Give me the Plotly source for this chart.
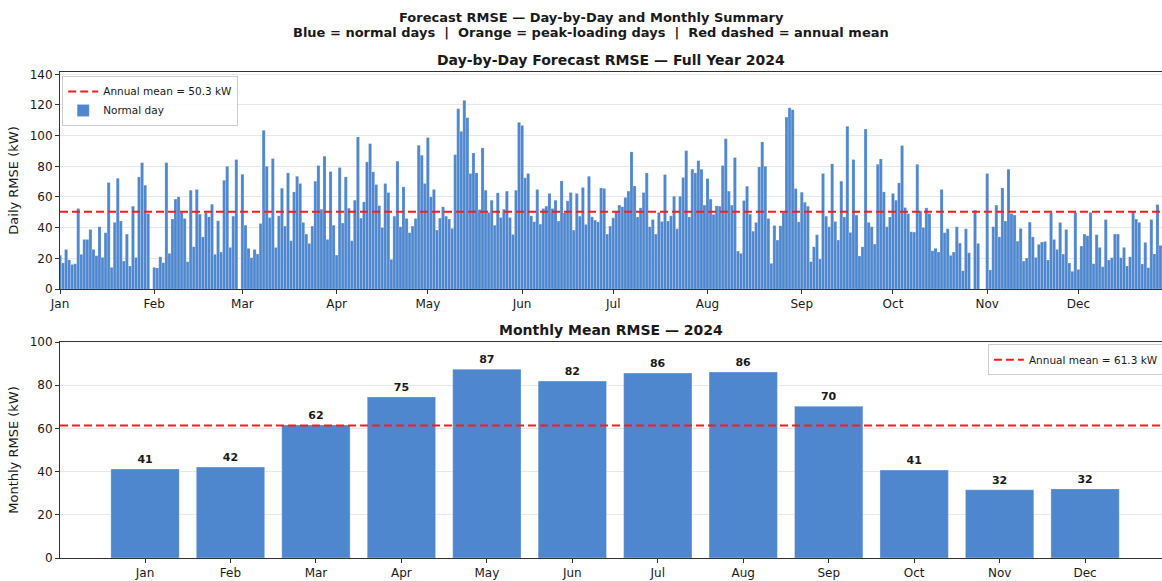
import numpy as np
import pandas as pd
import plotly.graph_objects as go
from plotly.subplots import make_subplots

# ---- daily forecast RMSE (kW), 2024; None = no value for that day ----
jan_rmse = [22.0, 17.0, 25.8, 19.0, 16.0, 16.5, 52.5, 22.6, 32.3, 32.3, 38.8, 25.8, 21.7, 40.6, 20.6,
            36.7, 69.4, 14.1, 43.4, 72.2, 44.3, 18.2, 35.8, 15.0, 54.0, 20.6, 73.1, 82.4, 67.7, 49.2, None]
feb_rmse = [14.1, 13.7, 21.0, 17.1, 82.4, 23.2, 45.6, 58.6, 60.1, 49.9, 46.0, 17.8, 64.4, 27.5, 64.9,
            48.8, 34.0, 49.7, 47.0, 55.3, 22.6, 44.5, 24.1, 70.9, 80.0, 27.1, 47.5, 84.4, None]
mar_rmse = [74.8, 41.6, 26.5, 20.4, 25.8, 22.8, 42.7, 103.5, 80.0, 46.6, 85.0, 27.1, 47.7, 65.7, 41.0,
            75.7, 31.5, 63.3, 73.5, 68.8, 43.4, 35.8, 29.7, 41.0, 70.3, 80.5, 52.0, 86.6, 32.3, 76.6, 41.6]
apr_rmse = [22.1, 79.2, 43.0, 73.1, 52.7, 31.5, 57.9, 99.1, 46.2, 56.8, 82.9, 94.8, 76.4, 68.1, 54.4,
            40.1, 68.8, 62.9, 19.3, 47.5, 83.3, 40.6, 66.6, 46.0, 36.7, 41.0, 46.0, 93.7, 87.2, 68.8]
may_rmse = [98.7, 60.1, 64.9, 38.4, 46.2, 53.6, 47.5, 45.6, 39.5, 87.6, 117.6, 102.8, 123.0, 111.7, 75.3,
            88.7, 75.7, 51.8, 92.0, 64.4, 49.9, 57.9, 41.6, 62.7, 46.6, 52.0, 63.8, 46.6, 35.6, 64.4, 108.7]
jun_rmse = [106.7, 72.5, 75.3, 47.7, 43.8, 64.9, 42.3, 52.5, 54.0, 62.3, 52.5, 57.9, 44.3, 70.5, 49.7,
            57.5, 62.9, 38.4, 62.3, 47.5, 66.2, 42.1, 73.5, 47.0, 44.9, 43.8, 65.9, 65.5, 35.8, 41.0]
jul_rmse = [46.4, 50.3, 54.7, 53.6, 59.7, 63.8, 89.4, 67.2, 47.0, 52.9, 62.9, 75.7, 40.6, 45.3, 35.8,
            49.9, 44.0, 74.6, 44.3, 47.7, 60.5, 39.3, 60.5, 72.7, 90.2, 47.0, 78.1, 75.7, 83.7, 78.1, 54.7]
aug_rmse = [72.0, 58.6, 48.6, 54.2, 54.0, 80.5, 98.0, 63.8, 54.7, 85.7, 24.7, 23.2, 57.7, 67.0, 48.8,
            37.7, 43.4, 79.6, 95.9, 80.0, 46.0, 16.7, 41.4, 31.9, 41.2, 49.9, 112.1, 118.2, 116.9, 65.5, 43.8]
sep_rmse = [63.1, 56.6, 54.0, 17.8, 27.5, 35.4, 19.5, 75.3, 47.5, 40.6, 81.6, 44.0, 31.9, 70.3, 47.0,
            106.1, 36.9, 84.4, 48.2, 21.5, 27.5, 104.3, 43.4, 40.6, 29.3, 81.3, 84.8, 63.3, 40.6, 47.0]
oct_rmse = [62.3, 57.9, 69.2, 93.5, 53.1, 49.2, 37.3, 37.1, 81.3, 51.0, 40.1, 52.9, 49.2, 24.9, 26.5,
            24.1, 64.9, 36.7, 39.3, 21.9, 24.1, 40.6, 29.9, 11.9, 39.3, 23.6, None, 51.4, 29.7, None, None]
nov_rmse = [75.3, 12.4, 40.6, 54.7, 34.0, 65.9, 44.3, 78.1, 49.2, 48.2, 31.2, 39.5, 18.2, 20.2, 43.6,
            34.0, 20.6, 29.1, 30.6, 31.0, 18.9, 49.9, 32.3, 25.8, 43.4, 22.8, 38.8, 16.9, 11.5, 49.9]
dec_rmse = [12.8, 28.0, 35.8, 34.7, 49.9, 16.5, 35.4, 27.1, 14.5, 45.3, 18.9, 20.4, 35.8, 35.8, 20.4,
            27.1, 15.0, 21.0, 50.8, 45.6, 43.4, 16.3, 30.4, 13.9, 45.3, 22.8, 55.1, 28.4, 36.0, 24.0, 31.0]

daily_rmse = (jan_rmse + feb_rmse + mar_rmse + apr_rmse + may_rmse + jun_rmse +
              jul_rmse + aug_rmse + sep_rmse + oct_rmse + nov_rmse + dec_rmse)
days = pd.date_range("2024-01-01", "2024-12-31", freq="D")
assert len(daily_rmse) == len(days)

daily_annual_mean = 50.3

# ---- monthly mean RMSE (kW) ----
months = ["Jan", "Feb", "Mar", "Apr", "May", "Jun", "Jul", "Aug", "Sep", "Oct", "Nov", "Dec"]
monthly_rmse = [41.2, 42.1, 61.6, 74.6, 87.4, 81.9, 85.6, 86.1, 70.3, 40.7, 31.6, 32.0]
monthly_annual_mean = round(float(np.mean(monthly_rmse)), 1)

BLUE = "#4f87cf"
RED = "#ff1a1a"
TXT = "#1a1a1a"
GRID = "#e8e8e8"
SPINE = "#333333"
FONT = "DejaVu Sans"
DASH = "8px,4px"

fig = make_subplots(rows=2, cols=1)

# top panel: daily bars + annual mean
fig.add_trace(go.Scatter(x=[None], y=[None], mode="lines",
                         line=dict(color=RED, width=2, dash=DASH),
                         name=f"Annual mean = {daily_annual_mean:.1f} kW",
                         legend="legend"), row=1, col=1)
fig.add_trace(go.Bar(x=days, y=daily_rmse, width=86400000,
                     marker=dict(color=BLUE, line=dict(color="rgba(255,255,255,0.45)", width=0.4)),
                     name="Normal day", legend="legend"), row=1, col=1)
fig.add_hline(y=daily_annual_mean, line=dict(color=RED, width=2, dash=DASH), row=1, col=1)

# bottom panel: monthly bars + annual mean
fig.add_trace(go.Bar(x=list(range(len(months))), y=monthly_rmse, width=0.8,
                     marker=dict(color=BLUE, line=dict(color="rgba(255,255,255,0.6)", width=0.5)),
                     texttemplate="<b>%{y:.0f}</b>", textposition="outside",
                     textfont=dict(size=11, color=TXT, family=FONT),
                     cliponaxis=False, showlegend=False), row=2, col=1)
fig.add_trace(go.Scatter(x=[None], y=[None], mode="lines",
                         line=dict(color=RED, width=2, dash=DASH),
                         name=f"Annual mean = {monthly_annual_mean:.1f} kW",
                         legend="legend2"), row=2, col=1)
fig.add_hline(y=monthly_annual_mean, line=dict(color=RED, width=2, dash=DASH), row=2, col=1)

axis_common = dict(showline=True, linecolor=SPINE, linewidth=1, ticks="outside", ticklen=4,
                   tickcolor=SPINE, tickfont=dict(size=12, color=TXT, family=FONT), zeroline=False,
                   automargin=False)

fig.update_xaxes(domain=[0, 1], row=1, col=1, type="date",
                 range=["2024-01-01", "2024-12-28 12:00"], dtick="M1", tick0="2024-01-01",
                 tickformat="%b", showgrid=False, mirror=True, **axis_common)
fig.update_yaxes(domain=[0.5535, 1.0], row=1, col=1, range=[0, 141.5], dtick=20,
                 showgrid=True, gridcolor=GRID, gridwidth=1,
                 title=dict(text="Daily RMSE (kW)", font=dict(size=13, color=TXT, family=FONT), standoff=8),
                 **axis_common)
fig.update_xaxes(domain=[0, 1], row=2, col=1, range=[-0.995, 11.9],
                 tickmode="array", tickvals=list(range(len(months))), ticktext=months,
                 showgrid=False, mirror=True, **axis_common)
fig.update_yaxes(domain=[0, 0.4444], row=2, col=1, range=[0, 100], dtick=20,
                 showgrid=True, gridcolor=GRID, gridwidth=1,
                 title=dict(text="Monthly RMSE (kW)", font=dict(size=13, color=TXT, family=FONT), standoff=8),
                 **axis_common)

title_font = dict(size=13, color=TXT, family=FONT, weight="bold")
fig.add_annotation(text="Forecast RMSE — Day-by-Day and Monthly Summary", xref="paper", yref="paper",
                   x=0.4819, y=1.113, showarrow=False, font=title_font, xanchor="center", yanchor="middle")
fig.add_annotation(text="Blue = normal days  |  Orange = peak-loading days  |  Red dashed = annual mean",
                   xref="paper", yref="paper", x=0.4819, y=1.0823, showarrow=False, font=title_font,
                   xanchor="center", yanchor="middle")
sub_font = dict(size=14, color=TXT, family=FONT, weight="bold")
fig.add_annotation(text="Day-by-Day Forecast RMSE — Full Year 2024", xref="paper", yref="paper",
                   x=0.5, y=1.0247, showarrow=False, font=sub_font, xanchor="center", yanchor="middle")
fig.add_annotation(text="Monthly Mean RMSE — 2024", xref="paper", yref="paper",
                   x=0.5, y=0.4691, showarrow=False, font=sub_font, xanchor="center", yanchor="middle")

legend_style = dict(bgcolor="rgba(255,255,255,0.85)", bordercolor="#cccccc", borderwidth=1,
                    font=dict(size=10.5, color=TXT, family=FONT), itemwidth=30, tracegroupgap=0)
fig.update_layout(
    width=1162, height=581,
    margin=dict(l=60, r=0, t=72, b=23, autoexpand=False),
    paper_bgcolor="white", plot_bgcolor="white",
    font=dict(family=FONT, color=TXT),
    barmode="overlay",
    legend=dict(x=0.002, y=0.992, xanchor="left", yanchor="top", **legend_style),
    legend2=dict(x=0.842, y=0.44, xanchor="left", yanchor="top", **legend_style),
)

fig.write_html("out.html")
